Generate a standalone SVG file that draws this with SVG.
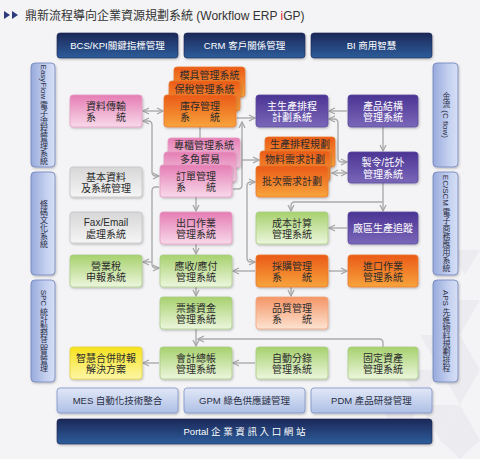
<svg xmlns="http://www.w3.org/2000/svg" width="480" height="459" viewBox="0 0 480 459">
<style>
text{font-family:"Liberation Sans","Noto Sans CJK TC",sans-serif;}
.t{font-size:10px;fill:#2b2b2b;text-anchor:middle;}
.tw{font-size:10px;fill:#ffffff;text-anchor:middle;}
.bt{font-size:9.5px;fill:#ffffff;text-anchor:middle;}
.bd{font-size:9.5px;fill:#2a2f45;text-anchor:middle;}
.vt{font-size:8px;fill:#2a2f45;text-anchor:middle;writing-mode:vertical-rl;}
.nav{fill:url(#gNav);stroke:#1a2550;stroke-width:0.6;filter:url(#sh);}
.lb{fill:url(#gLb);stroke:#7d92c6;stroke-width:0.8;filter:url(#sh);}
.side{fill:url(#gSide);stroke:#6f83bd;stroke-width:0.8;filter:url(#sh);}
.pk{fill:url(#gPk);stroke:#e49cc3;stroke-width:0.8;filter:url(#sh);}
.or{fill:url(#gOr);stroke:#e9782f;stroke-width:0.8;filter:url(#sh);}
.pu{fill:url(#gPu);stroke:#5a4a9c;stroke-width:0.8;filter:url(#sh);}
.gr{fill:url(#gGr);stroke:#a9cd86;stroke-width:0.8;filter:url(#sh);}
.gy{fill:url(#gGy);stroke:#c4c4c4;stroke-width:0.8;filter:url(#sh);}
.ye{fill:url(#gYe);stroke:#e4d33a;stroke-width:0.8;filter:url(#sh);}
.lo{fill:url(#gLo);stroke:#f0a57c;stroke-width:0.8;filter:url(#sh);}
.c{fill:none;stroke:#ababab;stroke-width:1.4;}
.a{marker-end:url(#ah);}
.aa{marker-end:url(#ah);marker-start:url(#ah);}
.bg{fill:#e9e9ee;}
</style>
<defs>
<filter id="sh" x="-10%" y="-10%" width="125%" height="140%">
<feDropShadow dx="0.8" dy="1.2" stdDeviation="0.9" flood-color="#000" flood-opacity="0.25"/>
</filter>
<marker id="ah" viewBox="0 0 8 8" refX="7" refY="4" markerWidth="8" markerHeight="8" markerUnits="userSpaceOnUse" orient="auto-start-reverse">
<path d="M1,1 L7,4 L1,7" fill="none" stroke="#a6a6a6" stroke-width="1.3"/>
</marker>
<linearGradient id="gNav" x1="0" y1="0" x2="0" y2="1"><stop offset="0" stop-color="#1c2858"/><stop offset="1" stop-color="#2d5d9b"/></linearGradient>
<linearGradient id="gLb" x1="0" y1="0" x2="0" y2="1"><stop offset="0" stop-color="#e1e8f7"/><stop offset="1" stop-color="#aebfe5"/></linearGradient>
<linearGradient id="gSide" x1="0" y1="0" x2="1" y2="0"><stop offset="0" stop-color="#97aadc"/><stop offset="0.6" stop-color="#c3cfef"/><stop offset="1" stop-color="#d6dff5"/></linearGradient>
<linearGradient id="gPk" x1="0" y1="0" x2="0" y2="1"><stop offset="0" stop-color="#e57db4"/><stop offset="1" stop-color="#f8d9ea"/></linearGradient>
<linearGradient id="gOr" x1="0" y1="0" x2="0" y2="1"><stop offset="0" stop-color="#eb5a17"/><stop offset="1" stop-color="#f7a43c"/></linearGradient>
<linearGradient id="gPu" x1="0" y1="0" x2="0" y2="1"><stop offset="0" stop-color="#4b3494"/><stop offset="1" stop-color="#7a68b9"/></linearGradient>
<linearGradient id="gGr" x1="0" y1="0" x2="0" y2="1"><stop offset="0" stop-color="#a7d16e"/><stop offset="1" stop-color="#ecf6de"/></linearGradient>
<linearGradient id="gGy" x1="0" y1="0" x2="0" y2="1"><stop offset="0" stop-color="#d7d7d7"/><stop offset="1" stop-color="#f5f5f5"/></linearGradient>
<linearGradient id="gYe" x1="0" y1="0" x2="0" y2="1"><stop offset="0" stop-color="#f6e21c"/><stop offset="1" stop-color="#fdf6a6"/></linearGradient>
<linearGradient id="gLo" x1="0" y1="0" x2="0" y2="1"><stop offset="0" stop-color="#f49565"/><stop offset="1" stop-color="#fde3d1"/></linearGradient>
</defs>

<rect x="0" y="0" width="480" height="459" fill="#f4f3f5"/>
<g id="bgpattern" opacity="0.7">
<polygon class="bg" points="440,300 480,300 460,335"/>
<polygon class="bg" points="420,335 460,335 440,370"/>
<polygon class="bg" points="460,335 480,370 440,370"/>
<polygon class="bg" points="400,370 440,370 420,405"/>
<polygon class="bg" points="440,370 480,370 460,405"/>
<polygon class="bg" points="420,405 460,405 440,440"/>
<polygon class="bg" points="460,405 480,440 440,440"/>
<polygon class="bg" points="380,405 420,405 400,440"/>
<polygon class="bg" points="440,440 480,440 460,459"/>
<polygon class="bg" points="450,250 480,250 465,275"/>
</g>

<g id="title">
<polygon points="4,11 10,15 4,19" fill="#2b3b7c"/>
<polygon points="12,11 18,15 12,19" fill="#2b3b7c"/>
<text x="25" y="19.5" style="font-size:12px;fill:#333">鼎新流程導向企業資源規劃系統 (Workflow ERP <tspan fill="#e0202a">i</tspan>GP)</text>
</g>

<g id="top-bcs"><rect x="57" y="33" width="121" height="25" rx="3" class="nav"/><text x="117.5" y="49" class="bt">BCS/KPI關鍵指標管理</text></g>
<g id="top-crm"><rect x="184" y="33" width="121" height="25" rx="3" class="nav"/><text x="244.5" y="49" class="bt">CRM 客戶關係管理</text></g>
<g id="top-bi"><rect x="311" y="33" width="121" height="25" rx="3" class="nav"/><text x="371.5" y="49" class="bt">BI 商用智慧</text></g>

<g id="side-easyflow"><rect x="31" y="63" width="24" height="104" rx="4" class="side"/><text x="43" y="115" class="vt">EasyFlow 電子流程管理系統</text></g>
<g id="side-barcode"><rect x="31" y="172" width="24" height="103" rx="4" class="side"/><text x="43" y="223.5" class="vt">條碼文化系統</text></g>
<g id="side-spc"><rect x="31" y="280" width="24" height="102" rx="4" class="side"/><text x="43" y="331" class="vt">SPC 統計製程品質管理</text></g>
<g id="side-cflow"><rect x="433" y="63" width="25" height="104" rx="4" class="side"/><text x="445.5" y="115" class="vt">金流 (C flow)</text></g>
<g id="side-ecscm"><rect x="433" y="172" width="25" height="103" rx="4" class="side"/><text x="445.5" y="223.5" class="vt">EC/SCM 電子商務應用系統</text></g>
<g id="side-aps"><rect x="433" y="280" width="25" height="102" rx="4" class="side"/><text x="445.5" y="331" class="vt">APS 先進物料規劃排程</text></g>

<g id="bot-mes"><rect x="57" y="388" width="121" height="25" rx="3" class="lb"/><text x="117.5" y="404" class="bd">MES 自動化技術整合</text></g>
<g id="bot-gpm"><rect x="184" y="388" width="121" height="25" rx="3" class="lb"/><text x="244.5" y="404" class="bd">GPM 綠色供應鏈管理</text></g>
<g id="bot-pdm"><rect x="311" y="388" width="121" height="25" rx="3" class="lb"/><text x="371.5" y="404" class="bd">PDM 產品研發管理</text></g>
<g id="portal"><rect x="57" y="419" width="375" height="25" rx="3" class="nav"/><text x="244.5" y="435" class="bt">Portal 企 業 資 訊 入 口 網 站</text></g>

<g id="connectors">
<path class="c aa" d="M143,111 H163"/>
<path class="c aa" d="M143,121 H148 Q152,121 152,125 V172 Q152,176 156,176 H159"/>
<path class="c a" d="M159,187 H156 Q152,187 152,191 V264 Q152,268 156,268 H159"/>
<path class="c a" d="M152,262 H143"/>
<path class="c" d="M200,127 V138"/>
<path class="c a" d="M237,118 H255"/>
<path class="c a" d="M233,189 H238 Q242,189 242,185 V122"/>
<path class="c a" d="M242,160 H259"/>
<path class="c aa" d="M255,182 H251 Q247,182 247,186 V258 Q247,262 251,262 H255"/>
<path class="c a" d="M255,271 H233"/>
<path class="c a" d="M347,111 H329"/>
<path class="c aa" d="M329,119 H334 Q338,119 338,123 V158 Q338,162 342,162 H347"/>
<path class="c aa" d="M332,173 H347"/>
<path class="c a" d="M383,127 V151"/>
<path class="c a" d="M383,183 V211"/>
<path class="c a" d="M383,202 H295 Q291,202 291,206 V211"/>
<path class="c a" d="M347,228 H329"/>
<path class="c a" d="M329,271 H347"/>
<path class="c a" d="M291,287 V296"/>
<path class="c a" d="M196,197 V211"/>
<path class="c a" d="M196,244 V254"/>
<path class="c a" d="M196,287 V296"/>
<path class="c a" d="M196,329 V346"/>
<path class="c a" d="M383,347 V343 Q383,339 379,339 H198"/>
<path class="c a" d="M255,363 H233"/>
<path class="c a" d="M159,363 H143"/>
</g>

<g id="n-data"><rect x="70" y="95" width="72" height="32" rx="3" class="pk"/><text x="106" y="109.5" class="t">資料傳輸</text><text x="106" y="121" class="t">系　　統</text></g>
<g id="n-basic"><rect x="70" y="167" width="72" height="30" rx="3" class="gy"/><text x="106" y="180.5" class="t">基本資料</text><text x="106" y="192" class="t">及系統管理</text></g>
<g id="n-fax"><rect x="70" y="212" width="72" height="31" rx="3" class="gy"/><text x="106" y="226" class="t">Fax/Email</text><text x="106" y="238" class="t">處理系統</text></g>
<g id="n-tax"><rect x="70" y="255" width="72" height="32" rx="3" class="gr"/><text x="106" y="269.5" class="t">營業稅</text><text x="106" y="281" class="t">申報系統</text></g>
<g id="n-smart"><rect x="70" y="347" width="72" height="32" rx="3" class="ye"/><text x="106" y="361.5" class="t">智慧合併財報</text><text x="106" y="373" class="t">解決方案</text></g>

<g id="n-mold"><rect x="174" y="67" width="71" height="30" rx="3" class="or"/><text x="209.5" y="78.5" class="t">模具管理系統</text></g>
<g id="n-bond"><rect x="169" y="81" width="71" height="30" rx="3" class="or"/><text x="204.5" y="92.5" class="t">保稅管理系統</text></g>
<g id="n-inv"><rect x="164" y="95" width="72" height="32" rx="3" class="or"/><text x="200" y="109.5" class="t">庫存管理</text><text x="200" y="121" class="t">系　　統</text></g>

<g id="n-counter"><rect x="168" y="138" width="72" height="30" rx="3" class="pk"/><text x="204" y="149" class="t">專櫃管理系統</text></g>
<g id="n-trade"><rect x="164" y="152" width="72" height="30" rx="3" class="pk"/><text x="200" y="163" class="t">多角貿易</text></g>
<g id="n-order"><rect x="160" y="165" width="72" height="32" rx="3" class="pk"/><text x="196" y="179.5" class="t">訂單管理</text><text x="196" y="191" class="t">系　　統</text></g>
<g id="n-export"><rect x="160" y="212" width="72" height="32" rx="3" class="pk"/><text x="196" y="226.5" class="t">出口作業</text><text x="196" y="238" class="t">管理系統</text></g>
<g id="n-arap"><rect x="160" y="255" width="72" height="32" rx="3" class="gr"/><text x="196" y="269.5" class="t">應收/應付</text><text x="196" y="281" class="t">管理系統</text></g>
<g id="n-note"><rect x="160" y="297" width="72" height="32" rx="3" class="gr"/><text x="196" y="311.5" class="t">票據資金</text><text x="196" y="323" class="t">管理系統</text></g>
<g id="n-gl"><rect x="160" y="347" width="72" height="32" rx="3" class="gr"/><text x="196" y="361.5" class="t">會計總帳</text><text x="196" y="373" class="t">管理系統</text></g>

<g id="n-mps"><rect x="256" y="95" width="72" height="32" rx="3" class="pu"/><text x="292" y="109.5" class="tw">主生產排程</text><text x="292" y="121" class="tw">計劃系統</text></g>
<g id="n-sched"><rect x="265" y="137" width="70" height="30" rx="3" class="or"/><text x="300" y="148" class="t">生產排程規劃</text></g>
<g id="n-mrp"><rect x="260" y="151" width="70" height="30" rx="3" class="or"/><text x="295" y="162.5" class="t">物料需求計劃</text></g>
<g id="n-lrp"><rect x="256" y="166" width="72" height="31" rx="3" class="or"/><text x="292" y="185" class="t">批次需求計劃</text></g>
<g id="n-cost"><rect x="256" y="212" width="72" height="32" rx="3" class="gr"/><text x="292" y="226.5" class="t">成本計算</text><text x="292" y="238" class="t">管理系統</text></g>
<g id="n-purch"><rect x="256" y="255" width="72" height="32" rx="3" class="or"/><text x="292" y="269.5" class="t">採購管理</text><text x="292" y="281" class="t">系　　統</text></g>
<g id="n-qc"><rect x="256" y="297" width="72" height="32" rx="3" class="lo"/><text x="292" y="311.5" class="t">品質管理</text><text x="292" y="323" class="t">系　　統</text></g>
<g id="n-auto"><rect x="256" y="347" width="72" height="32" rx="3" class="gr"/><text x="292" y="361.5" class="t">自動分錄</text><text x="292" y="373" class="t">管理系統</text></g>

<g id="n-bom"><rect x="348" y="95" width="70" height="32" rx="3" class="pu"/><text x="383" y="109.5" class="tw">產品結構</text><text x="383" y="121" class="tw">管理系統</text></g>
<g id="n-mo"><rect x="348" y="152" width="70" height="31" rx="3" class="pu"/><text x="383" y="166" class="tw">製令/託外</text><text x="383" y="177.5" class="tw">管理系統</text></g>
<g id="n-track"><rect x="348" y="212" width="70" height="32" rx="3" class="pu"/><text x="383" y="231.5" class="tw">廠區生產追蹤</text></g>
<g id="n-import"><rect x="348" y="255" width="70" height="32" rx="3" class="or"/><text x="383" y="269.5" class="t">進口作業</text><text x="383" y="281" class="t">管理系統</text></g>
<g id="n-asset"><rect x="348" y="347" width="70" height="32" rx="3" class="gr"/><text x="383" y="361.5" class="t">固定資產</text><text x="383" y="373" class="t">管理系統</text></g>
</svg>
